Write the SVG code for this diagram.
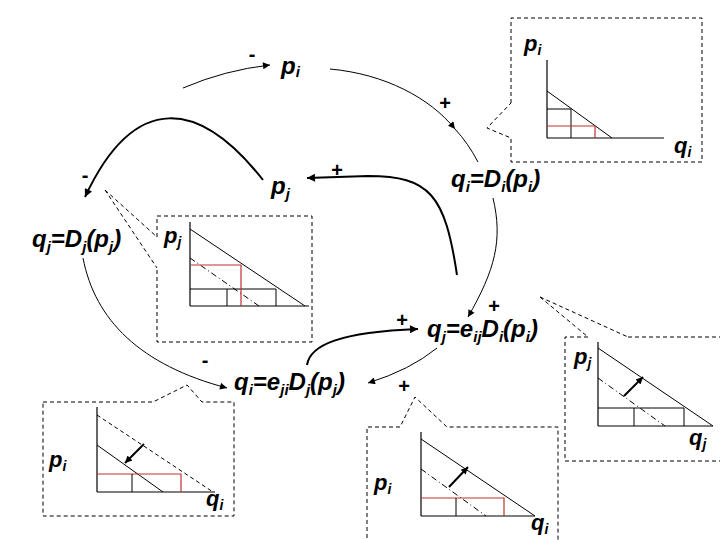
<svg xmlns="http://www.w3.org/2000/svg" width="720" height="540" viewBox="0 0 720 540">
<style>
  .lbl { font-family: "Liberation Sans", Arial, sans-serif; font-weight: bold; font-style: italic; font-size: 24px; fill: #000; }
  .blbl { font-family: "Liberation Sans", Arial, sans-serif; font-weight: bold; font-style: italic; font-size: 22px; fill: #000; }
  .sub { font-size: 15px; }
  .bsub { font-size: 14px; }
  .sign { font-family: "Liberation Sans", Arial, sans-serif; font-weight: bold; font-size: 20px; fill: #000; text-anchor: middle; }
  .thin { fill: none; stroke: #000; stroke-width: 1; }
  .thick { fill: none; stroke: #000; stroke-width: 2; }
  .dash { fill: none; stroke: #000; stroke-width: 1; stroke-dasharray: 4,3; }
  .dashdot { fill: none; stroke: #000; stroke-width: 1; stroke-dasharray: 6,3,1,3; }
  .ax { fill: none; stroke: #000; stroke-width: 1.2; }
  .ln { fill: none; stroke: #000; stroke-width: 1; }
  .red { fill: none; stroke: #c03030; stroke-width: 1.2; }
</style>
<defs>
  <marker id="ah" viewBox="0 0 10 10" refX="10" refY="5" markerWidth="9" markerHeight="7" markerUnits="userSpaceOnUse" orient="auto">
    <path d="M0,0 L10,5 L0,10 z" fill="#000"/>
  </marker>
  <marker id="ahb" viewBox="0 0 10 10" refX="10" refY="5" markerWidth="11" markerHeight="8" markerUnits="userSpaceOnUse" orient="auto">
    <path d="M0,0 L10,5 L0,10 z" fill="#000"/>
  </marker>
</defs>

<g id="connectors">
  <path class="thin" d="M183,88 Q225,70 270,65" marker-end="url(#ah)"/>
  <path class="thin" d="M330,69 C385,74 430,98 455,129" marker-end="url(#ah)"/>
  <path class="thin" d="M455,129 Q468,143 478,162"/>
  <path class="thick" d="M263,180 C200,100 135,90 85,197" marker-end="url(#ahb)"/>
  <path class="thick" d="M457,275 C445,195 430,176 368,176 L307,178" marker-end="url(#ahb)"/>
  <path class="thin" d="M493,198 C503,240 495,270 468,317" marker-end="url(#ah)"/>
  <path class="thin" d="M83,258 C95,320 140,365 227,388" marker-end="url(#ah)"/>
  <path class="thick" d="M307,365 C310,345 340,332 418,329" marker-end="url(#ahb)"/>
  <path class="thin" d="M437,348 Q410,370 368,383" marker-end="url(#ah)"/>
  <text class="sign" x="252" y="61">-</text>
  <text class="sign" x="445" y="110">+</text>
  <text class="sign" x="337" y="177">+</text>
  <text class="sign" x="85" y="182">-</text>
  <text class="sign" x="494" y="313">+</text>
  <text class="sign" x="402" y="327">+</text>
  <text class="sign" x="404" y="393">+</text>
  <text class="sign" x="205" y="367">-</text>
</g>

<g id="node-pi"><text class="lbl" x="281" y="74">p<tspan class="sub" dy="3">i</tspan></text></g>
<g id="node-pj"><text class="lbl" x="271" y="194">p<tspan class="sub" dy="5">j</tspan></text></g>
<g id="node-qi"><text class="lbl" x="451" y="187">q<tspan class="sub" dy="5">i</tspan><tspan dy="-5">=D</tspan><tspan class="sub" dy="5">i</tspan><tspan dy="-5">(p</tspan><tspan class="sub" dy="5">i</tspan><tspan dy="-5">)</tspan></text></g>
<g id="node-qj"><text class="lbl" x="32" y="247">q<tspan class="sub" dy="5">j</tspan><tspan dy="-5">=D</tspan><tspan class="sub" dy="5">j</tspan><tspan dy="-5">(p</tspan><tspan class="sub" dy="5">j</tspan><tspan dy="-5">)</tspan></text></g>
<g id="node-qj2"><text class="lbl" x="427" y="337">q<tspan class="sub" dy="5">j</tspan><tspan dy="-5">=e</tspan><tspan class="sub" dy="5">ij</tspan><tspan dy="-5">D</tspan><tspan class="sub" dy="5">i</tspan><tspan dy="-5">(p</tspan><tspan class="sub" dy="5">i</tspan><tspan dy="-5">)</tspan></text></g>
<g id="node-qi2"><text class="lbl" x="234" y="390">q<tspan class="sub" dy="5">i</tspan><tspan dy="-5">=e</tspan><tspan class="sub" dy="5">ji</tspan><tspan dy="-5">D</tspan><tspan class="sub" dy="5">j</tspan><tspan dy="-5">(p</tspan><tspan class="sub" dy="5">j</tspan><tspan dy="-5">)</tspan></text></g>

<g id="box-top-right">
  <path class="dash" d="M511,103 L511,18 L702,18 L702,162 L511,162 L511,138 L487,128 L511,103"/>
  <line class="ax" x1="547" y1="60" x2="547" y2="138"/>
  <line class="ax" x1="547" y1="138" x2="664" y2="138"/>
  <line class="ln" x1="547" y1="91" x2="612" y2="138"/>
  <polyline class="ln" points="547,109 571,109 571,138"/>
  <polyline class="red" points="547,126 595,126 595,138"/>
  <text class="blbl" x="524" y="51">p<tspan class="bsub" dy="4">i</tspan></text>
  <text class="blbl" x="674" y="153">q<tspan class="bsub" dy="4">i</tspan></text>
</g>

<g id="box-left">
  <path class="dash" d="M157,237 L157,216 L312,216 L312,342 L157,342 L157,268"/>
  <path class="dash" d="M105,190 L157,237 M105,190 L157,268"/>
  <line class="ax" x1="190" y1="222" x2="190" y2="306"/>
  <line class="ax" x1="190" y1="306" x2="309" y2="306"/>
  <line class="ln" x1="190" y1="229" x2="305" y2="306"/>
  <line class="dashdot" x1="190" y1="258" x2="259" y2="306"/>
  <polyline class="ln" points="190,289 276,289 276,306"/>
  <line class="ln" x1="227" y1="289" x2="227" y2="306"/>
  <polyline class="red" points="191,265 241,265 241,306"/>
  <text class="blbl" x="164" y="243">p<tspan class="bsub" dy="4">j</tspan></text>
</g>

<g id="box-right">
  <path class="dash" d="M588,337 L565,337 L565,461 L722,461 M628,337 L722,337"/>
  <path class="dash" d="M540,297 L588,337 M540,297 L628,337"/>
  <line class="ax" x1="598" y1="342" x2="598" y2="426"/>
  <line class="ax" x1="598" y1="426" x2="713" y2="426"/>
  <line class="ln" x1="598" y1="348" x2="713" y2="426"/>
  <line class="dashdot" x1="598" y1="378" x2="665" y2="426"/>
  <polyline class="ln" points="598,408 684,408 684,426"/>
  <line class="ln" x1="634" y1="408" x2="634" y2="426"/>
  <line class="thick" x1="624" y1="396" x2="643" y2="377" marker-end="url(#ah)"/>
  <text class="blbl" x="574" y="364">p<tspan class="bsub" dy="4">j</tspan></text>
  <text class="blbl" x="689" y="445">q<tspan class="bsub" dy="4">j</tspan></text>
</g>

<g id="box-bottom-left">
  <path class="dash" d="M43,402 L153,402 L187,385 L202,402 L234,402 L234,516 L43,516 Z"/>
  <line class="ax" x1="97" y1="407" x2="97" y2="492"/>
  <line class="ax" x1="97" y1="492" x2="215" y2="492"/>
  <line class="dash" x1="97" y1="415" x2="213" y2="492"/>
  <line class="ln" x1="97" y1="445" x2="163" y2="492"/>
  <polyline class="red" points="97,474 181,474 181,492"/>
  <line class="ln" x1="132" y1="474" x2="132" y2="492"/>
  <line class="thick" x1="144" y1="444" x2="125" y2="463" marker-end="url(#ah)"/>
  <text class="blbl" x="49" y="467">p<tspan class="bsub" dy="4">i</tspan></text>
  <text class="blbl" x="206" y="506">q<tspan class="bsub" dy="4">i</tspan></text>
</g>

<g id="box-bottom-middle">
  <path class="dash" d="M367,545 L367,427 L400,427 L415,397 L447,427 L558,427 L558,545"/>
  <line class="ax" x1="421" y1="432" x2="421" y2="516"/>
  <line class="ax" x1="421" y1="516" x2="535" y2="516"/>
  <line class="ln" x1="421" y1="439" x2="535" y2="516"/>
  <line class="dashdot" x1="421" y1="469" x2="486" y2="516"/>
  <polyline class="red" points="421,498 504,498 504,516"/>
  <line class="ln" x1="456" y1="498" x2="456" y2="516"/>
  <line class="thick" x1="449" y1="487" x2="468" y2="467" marker-end="url(#ah)"/>
  <text class="blbl" x="374" y="490">p<tspan class="bsub" dy="4">i</tspan></text>
  <text class="blbl" x="531" y="530">q<tspan class="bsub" dy="4">i</tspan></text>
</g>
</svg>
